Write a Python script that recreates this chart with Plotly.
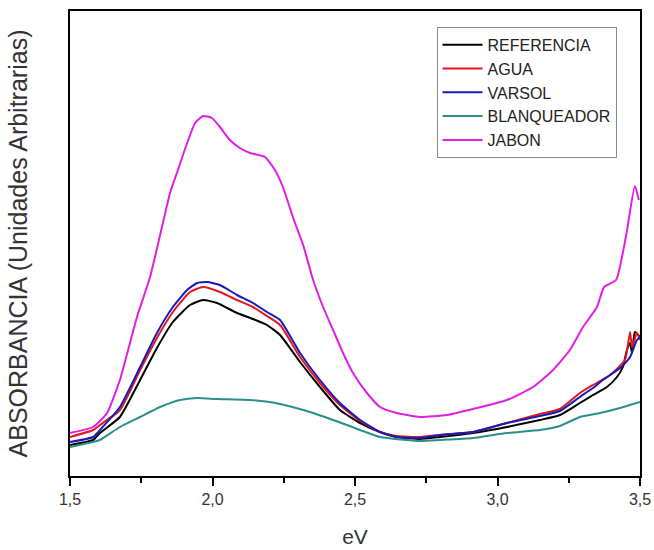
import plotly.graph_objects as go

# ---- data (energy in eV, absorbance in arbitrary units) ----
ev_referencia = [1.500, 1.581, 1.605, 1.675, 1.746, 1.805, 1.861, 1.921, 1.967, 2.016,
                 2.086, 2.142, 2.191, 2.237, 2.307, 2.377, 2.447, 2.518, 2.588, 2.647,
                 2.728, 2.798, 2.914, 3.033, 3.149, 3.219, 3.289, 3.335, 3.384, 3.419,
                 3.440, 3.454, 3.465, 3.472, 3.482, 3.500]
referencia = [31, 36, 43, 59, 96, 128, 154, 171, 176, 173, 163, 157, 151, 141, 114, 89,
              66, 53, 44, 39, 37, 39, 43, 49, 56, 61, 73, 81, 89, 99, 109, 126, 133,
              123, 144, 139]

ev_agua = [1.500, 1.581, 1.605, 1.675, 1.746, 1.805, 1.861, 1.921, 1.967, 2.026, 2.086,
           2.142, 2.191, 2.237, 2.307, 2.377, 2.447, 2.518, 2.588, 2.647, 2.728, 2.798,
           2.914, 3.033, 3.149, 3.219, 3.289, 3.335, 3.395, 3.447, 3.465, 3.472, 3.489,
           3.500]
agua = [39, 46, 51, 66, 106, 138, 164, 184, 189, 184, 176, 169, 160, 151, 119, 93, 71,
        55, 44, 40, 39, 41, 44, 53, 62, 67, 83, 91, 101, 116, 144, 129, 143, 136]

ev_varsol = [1.500, 1.581, 1.605, 1.675, 1.746, 1.805, 1.861, 1.911, 1.946, 1.981,
             2.026, 2.086, 2.142, 2.191, 2.237, 2.307, 2.377, 2.447, 2.518, 2.588,
             2.647, 2.728, 2.798, 2.914, 3.033, 3.149, 3.219, 3.289, 3.335, 3.370,
             3.430, 3.465, 3.489, 3.500]
varsol = [34, 39, 46, 69, 109, 143, 169, 186, 193, 194, 191, 181, 173, 164, 156, 123,
          96, 73, 56, 44, 39, 38, 41, 44, 53, 60, 65, 79, 88, 96, 108, 119, 136, 139]

ev_blanqueador = [1.500, 1.581, 1.605, 1.675, 1.746, 1.816, 1.886, 1.946, 2.016, 2.132,
                  2.237, 2.353, 2.472, 2.588, 2.728, 2.798, 2.914, 3.033, 3.149, 3.219,
                  3.289, 3.360, 3.430, 3.500]
blanqueador = [29, 34, 36, 49, 59, 69, 76, 78, 77, 76, 72, 63, 51, 39, 35, 36, 38, 43,
               46, 50, 59, 63, 68, 74]

ev_jabon = [1.500, 1.581, 1.630, 1.675, 1.735, 1.781, 1.826, 1.851, 1.875, 1.911,
            1.939, 1.967, 1.998, 2.026, 2.061, 2.096, 2.132, 2.184, 2.219, 2.247,
            2.282, 2.318, 2.353, 2.388, 2.423, 2.458, 2.493, 2.542, 2.588, 2.647,
            2.728, 2.823, 2.914, 3.033, 3.125, 3.195, 3.254, 3.300, 3.349, 3.374,
            3.416, 3.451, 3.482, 3.496]
jabon = [43, 49, 63, 96, 159, 199, 253, 283, 303, 333, 353, 360, 358, 349, 336, 328,
         323, 319, 306, 289, 259, 231, 196, 169, 146, 123, 103, 83, 69, 63, 59, 61, 67,
         76, 89, 106, 126, 149, 169, 189, 196, 240, 290, 276]

x_ticks = [1.5, 2.0, 2.5, 3.0, 3.5]
x_tick_labels = ["1,5", "2,0", "2,5", "3,0", "3,5"]

series = [
    ("REFERENCIA", ev_referencia, referencia, "#000000"),
    ("AGUA", ev_agua, agua, "#e3181c"),
    ("VARSOL", ev_varsol, varsol, "#1a1ab8"),
    ("BLANQUEADOR", ev_blanqueador, blanqueador, "#2a8f8a"),
    ("JABON", ev_jabon, jabon, "#e01fe3"),
]

fig = go.Figure()
for name, xs, ys, col in series:
    fig.add_trace(go.Scatter(x=xs, y=ys, name=name, mode="lines",
                             line=dict(color=col, width=2, shape="spline", smoothing=0.5)))

font_family = "Liberation Sans, Arial, sans-serif"
fig.update_layout(
    width=654, height=550,
    margin=dict(l=70, r=14, t=11, b=74),
    paper_bgcolor="white", plot_bgcolor="white",
    font=dict(family=font_family, color="#333333"),
    legend=dict(x=0.643, y=0.966, xanchor="left", yanchor="top",
                bordercolor="#888888", borderwidth=1, bgcolor="white",
                font=dict(size=16, color="#222222"), itemwidth=40,
                tracegroupgap=0),
    xaxis=dict(range=[1.5, 3.5], tickvals=x_ticks, ticktext=x_tick_labels,
               ticks="outside", ticklen=8, tickwidth=1.5, tickcolor="#000",
               showline=True, linecolor="#000", linewidth=1.5, mirror=True,
               showgrid=False, zeroline=False, automargin=False,
               tickfont=dict(size=16, color="#333333"),
               minor=dict(dtick=0.25, ticks="outside", ticklen=5, tickwidth=1.5,
                          tickcolor="#000", showgrid=False),
               title=dict(text="eV", font=dict(size=21, color="#333333"), standoff=22)),
    yaxis=dict(range=[0, 465], showticklabels=False, ticks="",
               showline=True, linecolor="#000", linewidth=1.5, mirror=True,
               showgrid=False, zeroline=False, automargin=False,
               title=dict(text="ABSORBANCIA (Unidades Arbitrarias)",
                          font=dict(size=25, color="#333333"), standoff=34)),
)

fig.write_html("out.html",
               config={"displayModeBar": False},
               post_script="document.body.style.margin='0px';"
                           "document.body.style.overflow='hidden';")
